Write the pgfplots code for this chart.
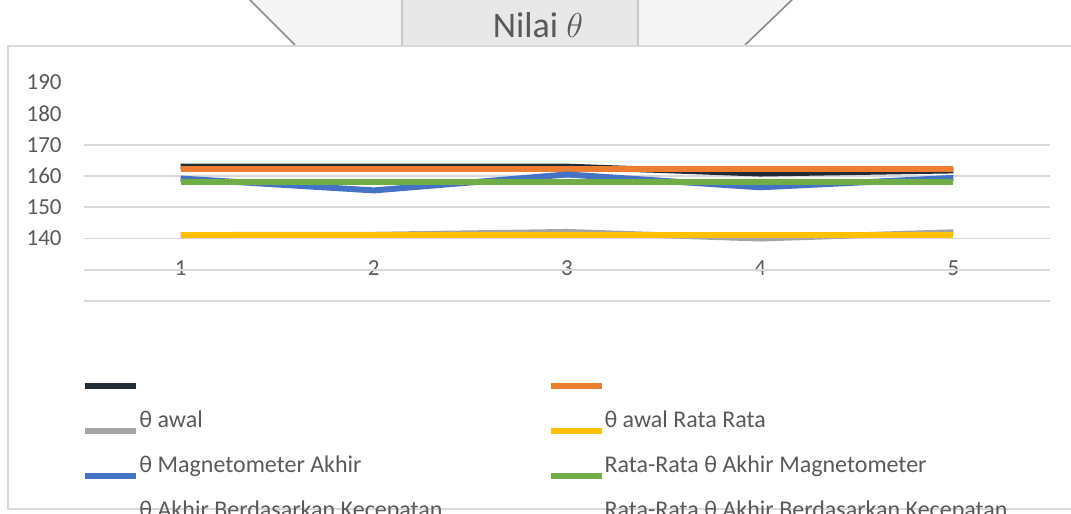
\documentclass[border=0pt]{standalone}
\usepackage{fontspec}
\setmainfont{Carlito}
\usepackage{pgfplots}
\pgfplotsset{compat=1.18}
\definecolor{txt}{HTML}{595959}
\definecolor{gridc}{HTML}{D9D9D9}
\definecolor{cblack}{HTML}{232B36}
\definecolor{corange}{HTML}{ED7D31}
\definecolor{cgray}{HTML}{A5A5A5}
\definecolor{cyellow}{HTML}{FFC000}
\definecolor{cblue}{HTML}{4472C4}
\definecolor{cgreen}{HTML}{70AD47}
\definecolor{cnavy}{HTML}{264478}
\definecolor{cbrown}{HTML}{9E480E}
\begin{document}
\begin{tikzpicture}
% title decoration
\fill[fill={rgb,255:red,244;green,244;blue,244}] (125pt,257pt) -- (396pt,257pt) -- (372.5pt,234.5pt) -- (147.5pt,234.5pt) -- cycle;
\fill[fill={rgb,255:red,232;green,232;blue,232}] (201pt,234.5pt) rectangle (319pt,257pt);
\draw[line width=1pt, draw={rgb,255:red,200;green,200;blue,200}] (201pt,234.5pt) -- (201pt,257pt);
\draw[line width=1pt, draw={rgb,255:red,200;green,200;blue,200}] (319pt,234.5pt) -- (319pt,257pt);
\draw[line width=0.8pt, draw={rgb,255:red,140;green,140;blue,140}] (122pt,260pt) -- (147.5pt,234.5pt);
\draw[line width=0.8pt, draw={rgb,255:red,140;green,140;blue,140}] (399pt,260pt) -- (372.5pt,234.5pt);
\node[anchor=base, text=txt, inner sep=0pt, font=\fontsize{18}{21}\selectfont] at (269pt,238pt) {Nilai $\theta$};
% frame
\draw[line width=1pt, draw=gridc] (560pt,234pt) -- (4pt,234pt) -- (4pt,2.5pt) -- (560pt,2.5pt);
\begin{axis}[
  at={(42pt,106.5pt)}, anchor=south west,
  scale only axis, width=483pt, height=109.35pt,
  xmin=0.5, xmax=5.5, ymin=120, ymax=190,
  axis line style={draw=none},
  tick style={draw=none},
  xtick={1,2,3,4,5},
  ytick={140,150,160,170,180,190},
  extra y ticks={120,130,140,150,160,170},
  extra y tick labels={},
  extra y tick style={grid=major},
  major grid style={draw=gridc, line width=0.9pt},
  /pgf/number format/assume math mode=true,
  ticklabel style={text=txt, font=\fontsize{11.5}{13}\selectfont},
  yticklabel style={anchor=east, inner sep=0pt, xshift=-11pt},
  xticklabel style={anchor=center, inner sep=0pt, yshift=16.5pt},
  legend cell align=left,
  legend columns=2,
  legend image code/.code={%
    \path[draw=none, fill=none] (0pt,-11.25pt) rectangle (25.5pt,11.25pt);
    \draw[#1] (0pt,-5.1pt) -- (25.5pt,-5.1pt);},
  legend style={draw=none, fill=none, inner sep=0pt, row sep=0pt,
    at={(-0.00207,-0.2369)}, anchor=north west,
    font=\fontsize{12}{14}\selectfont, text=txt,
    nodes={inner sep=0pt},
    /tikz/every odd column/.append style={column sep=0pt},
    /tikz/every even column/.append style={column sep=52.5pt}},
  every axis plot/.append style={line width=3pt},
]
\addplot[cblack] coordinates {(1,163.0) (2,163.0) (3,163.0) (4,160.8) (5,161.8)};
\addlegendentry{\mbox{}}
\addplot[corange] coordinates {(1,162.3) (2,162.3) (3,162.3) (4,162.3) (5,162.3)};
\addlegendentry{\mbox{}}
\addplot[cgray] coordinates {(1,141.1) (2,141.2) (3,142.1) (4,140.0) (5,142.0)};
\addlegendentry{θ awal}
\addplot[cyellow] coordinates {(1,141.2) (2,141.2) (3,141.2) (4,141.2) (5,141.2)};
\addlegendentry{θ awal Rata Rata}
\addplot[cblue] coordinates {(1,159.2) (2,155.4) (3,160.5) (4,156.4) (5,159.4)};
\addlegendentry{θ Magnetometer Akhir}
\addplot[cgreen] coordinates {(1,158.0) (2,158.0) (3,158.0) (4,158.0) (5,158.0)};
\addlegendentry{Rata-Rata θ Akhir Magnetometer}
\addlegendimage{cnavy, line width=3pt}
\addlegendentry{θ Akhir Berdasarkan Kecepatan}
\addlegendimage{cbrown, line width=3pt}
\addlegendentry{Rata-Rata θ Akhir Berdasarkan Kecepatan}
\end{axis}
\pgfresetboundingbox
\path[use as bounding box] (0pt,0pt) rectangle (535.5pt,257pt);
\end{tikzpicture}
\end{document}
